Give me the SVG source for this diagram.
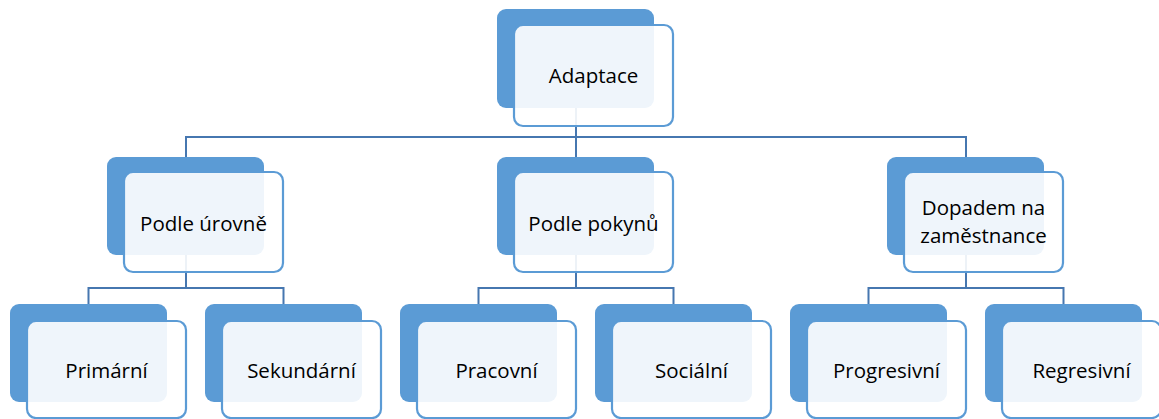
<svg xmlns="http://www.w3.org/2000/svg" width="1159" height="419" viewBox="0 0 1159 419">
<style>
.back{fill:#5B9BD5;}
.front{fill:#FFFFFF;fill-opacity:0.9;stroke:#5B9BD5;stroke-width:2.2;}
.conn{fill:none;stroke:#4677B0;stroke-width:2;}
.lbl{font-family:"Open Sans","Noto Sans",sans-serif;font-size:20.5px;fill:#000;text-anchor:middle;}
</style>
<rect width="1159" height="419" fill="#FFFFFF"/>
<g id="connectors">
<path class="conn" d="M576,108 V137 M186,157 V137 H966 V157 M576,137 V157"/>
<path class="conn" d="M186,255 V288 M88.5,304 V288 H283.5 V304"/>
<path class="conn" d="M576,255 V288 M478.5,304 V288 H673.5 V304"/>
<path class="conn" d="M966,255 V288 M868.5,304 V288 H1063.5 V304"/>
</g>
<g id="n-adaptace">
<rect class="back" x="497" y="9" width="157" height="99" rx="9"/>
<rect class="front" x="514" y="25" width="159" height="101" rx="9"/>
<text class="lbl" x="593.5" y="83">Adaptace</text>
</g>
<g id="n-uroven">
<rect class="back" x="107" y="157" width="157" height="98" rx="9"/>
<rect class="front" x="124" y="172" width="159" height="100" rx="9"/>
<text class="lbl" x="203.5" y="231">Podle úrovně</text>
</g>
<g id="n-pokyny">
<rect class="back" x="497" y="157" width="157" height="98" rx="9"/>
<rect class="front" x="514" y="172" width="159" height="100" rx="9"/>
<text class="lbl" x="593.5" y="231">Podle pokynů</text>
</g>
<g id="n-dopad">
<rect class="back" x="887" y="157" width="157" height="98" rx="9"/>
<rect class="front" x="904" y="172" width="159" height="100" rx="9"/>
<text class="lbl" x="983.5" y="215">Dopadem na</text>
<text class="lbl" x="983.5" y="243">zaměstnance</text>
</g>
<g id="n-primarni">
<rect class="back" x="10" y="304" width="157" height="98" rx="9"/>
<rect class="front" x="27" y="321" width="159" height="97" rx="9"/>
<text class="lbl" x="106.5" y="378">Primární</text>
</g>
<g id="n-sekundarni">
<rect class="back" x="205" y="304" width="157" height="98" rx="9"/>
<rect class="front" x="222" y="321" width="159" height="97" rx="9"/>
<text class="lbl" x="301.5" y="378">Sekundární</text>
</g>
<g id="n-pracovni">
<rect class="back" x="400" y="304" width="157" height="98" rx="9"/>
<rect class="front" x="417" y="321" width="159" height="97" rx="9"/>
<text class="lbl" x="496.5" y="378">Pracovní</text>
</g>
<g id="n-socialni">
<rect class="back" x="595" y="304" width="157" height="98" rx="9"/>
<rect class="front" x="612" y="321" width="159" height="97" rx="9"/>
<text class="lbl" x="691.5" y="378">Sociální</text>
</g>
<g id="n-progresivni">
<rect class="back" x="790" y="304" width="157" height="98" rx="9"/>
<rect class="front" x="807" y="321" width="159" height="97" rx="9"/>
<text class="lbl" x="886.5" y="378">Progresivní</text>
</g>
<g id="n-regresivni">
<rect class="back" x="985" y="304" width="157" height="98" rx="9"/>
<rect class="front" x="1002" y="321" width="159" height="97" rx="9"/>
<text class="lbl" x="1081.5" y="378">Regresivní</text>
</g>
</svg>
